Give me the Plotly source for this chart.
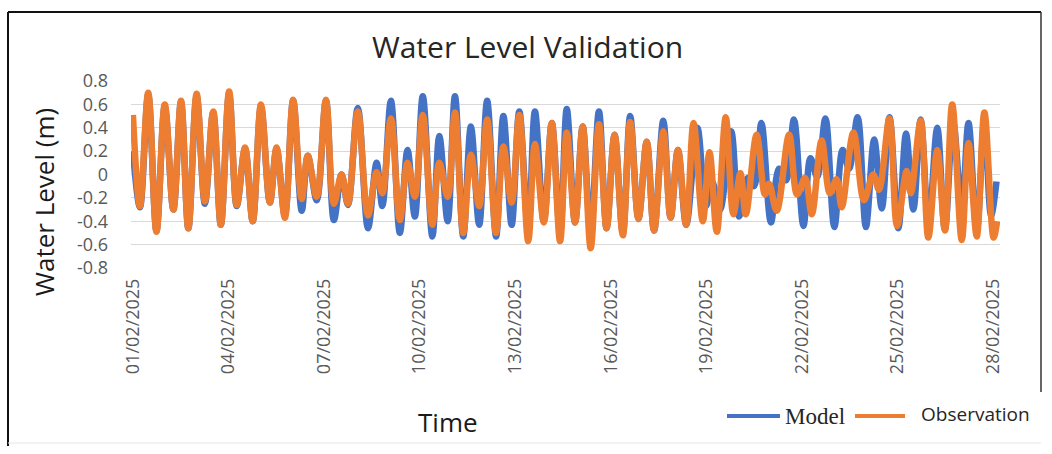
import pandas as pd
import plotly.graph_objects as go

# ---- data ----
start_date = "2025-02-01"

obs_days = [0.00, 0.22, 0.48, 0.74, 1.00, 1.27, 1.51, 1.74, 2.00, 2.26,
            2.52, 2.76, 3.02, 3.26, 3.52, 3.76, 4.02, 4.30, 4.51, 4.77,
            5.03, 5.30, 5.49, 5.77, 6.06, 6.31, 6.55, 6.75, 7.06, 7.38,
            7.65, 7.83, 8.10, 8.38, 8.62, 8.85, 9.10, 9.40, 9.62, 9.88,
            10.11, 10.37, 10.61, 10.87, 11.12, 11.40, 11.63, 11.89, 12.13, 12.41,
            12.62, 12.90, 13.15, 13.41, 13.62, 13.88, 14.12, 14.37, 14.63, 14.87,
            15.12, 15.38, 15.61, 15.87, 16.13, 16.36, 16.65, 16.88, 17.11, 17.37,
            17.60, 17.89, 18.10, 18.33, 18.61, 18.85, 19.07, 19.24, 19.58, 19.84,
            19.97, 20.21, 20.60, 20.85, 21.10, 21.31, 21.62, 21.88, 22.09, 22.25,
            22.62, 22.95, 23.24, 23.42, 23.75, 23.99, 24.29, 24.42, 24.73, 24.97,
            25.25, 25.49, 25.72, 26.02, 26.23, 26.49, 26.73, 27.02, 27.13]
obs_level = [0.51, -0.27, 0.70, -0.49, 0.60, -0.30, 0.63, -0.46, 0.69, -0.23,
             0.54, -0.43, 0.71, -0.26, 0.23, -0.40, 0.60, -0.24, 0.23, -0.37,
             0.64, -0.21, 0.16, -0.19, 0.64, -0.25, 0.00, -0.25, 0.54, -0.35,
             0.02, -0.16, 0.48, -0.39, 0.10, -0.19, 0.51, -0.43, 0.10, -0.19,
             0.53, -0.50, 0.17, -0.27, 0.47, -0.50, 0.24, -0.24, 0.51, -0.57,
             0.26, -0.41, 0.44, -0.57, 0.36, -0.41, 0.41, -0.63, 0.43, -0.46,
             0.34, -0.52, 0.45, -0.38, 0.28, -0.48, 0.37, -0.37, 0.21, -0.43,
             0.44, -0.40, 0.19, -0.49, 0.49, -0.34, 0.01, -0.34, 0.34, -0.17,
             -0.08, -0.31, 0.34, -0.17, -0.03, -0.34, 0.29, -0.16, -0.04, -0.28,
             0.36, -0.22, 0.00, -0.13, 0.48, -0.44, 0.03, -0.16, 0.46, -0.54,
             0.21, -0.48, 0.60, -0.56, 0.27, -0.53, 0.53, -0.54, -0.40]

model_days = [0.00, 0.22, 0.48, 0.74, 1.00, 1.27, 1.51, 1.74, 2.00, 2.26,
              2.52, 2.76, 3.02, 3.26, 3.52, 3.76, 4.02, 4.30, 4.51, 4.77,
              5.03, 5.30, 5.49, 5.77, 6.06, 6.31, 6.55, 6.75, 7.06, 7.38,
              7.65, 7.83, 8.10, 8.38, 8.62, 8.85, 9.10, 9.40, 9.62, 9.88,
              10.11, 10.37, 10.61, 10.87, 11.12, 11.40, 11.63, 11.89, 12.13, 12.41,
              12.62, 12.90, 13.15, 13.41, 13.62, 13.88, 14.12, 14.37, 14.63, 14.87,
              15.12, 15.38, 15.61, 15.87, 16.13, 16.36, 16.65, 16.88, 17.11, 17.37,
              17.72, 17.99, 18.18, 18.43, 18.78, 19.03, 19.30, 19.50, 19.73, 20.03,
              20.28, 20.50, 20.75, 21.05, 21.27, 21.48, 21.74, 22.02, 22.28, 22.48,
              22.75, 23.01, 23.27, 23.51, 23.75, 24.03, 24.27, 24.50, 24.73, 24.98,
              25.25, 25.49, 25.75, 26.02, 26.23, 26.49, 26.73, 26.94, 27.11]
model_level = [0.20, -0.28, 0.68, -0.48, 0.58, -0.30, 0.62, -0.46, 0.67, -0.25,
               0.53, -0.43, 0.69, -0.27, 0.22, -0.40, 0.58, -0.24, 0.22, -0.35,
               0.63, -0.31, 0.16, -0.22, 0.63, -0.39, 0.00, -0.26, 0.57, -0.46,
               0.10, -0.27, 0.63, -0.50, 0.21, -0.36, 0.67, -0.53, 0.33, -0.40,
               0.67, -0.53, 0.41, -0.43, 0.63, -0.53, 0.50, -0.43, 0.54, -0.47,
               0.54, -0.40, 0.44, -0.50, 0.56, -0.41, 0.41, -0.50, 0.54, -0.46,
               0.34, -0.50, 0.50, -0.38, 0.28, -0.48, 0.46, -0.37, 0.21, -0.43,
               0.40, -0.27, -0.06, -0.30, 0.37, -0.36, -0.03, -0.10, 0.44, -0.41,
               0.05, -0.05, 0.47, -0.44, 0.14, -0.02, 0.48, -0.45, 0.21, 0.05,
               0.49, -0.45, 0.30, -0.29, 0.49, -0.46, 0.35, -0.30, 0.47, -0.42,
               0.40, -0.47, 0.45, -0.30, 0.44, -0.48, 0.45, -0.35, -0.06]

y_ticks = [-0.8, -0.6, -0.4, -0.2, 0, 0.2, 0.4, 0.6, 0.8]
y_tick_text = ["-0.8", "-0.6", "-0.4", "-0.2", "0", "0.2", "0.4", "0.6", "0.8"]

series_names = ["Model", "Observation"]

# ---- build ----
t0 = pd.Timestamp(start_date)
obs_time = t0 + pd.to_timedelta(obs_days, unit="D")
model_time = t0 + pd.to_timedelta(model_days, unit="D")

BLUE = "#4472C4"
ORANGE = "#ED7D31"

fig = go.Figure()
fig.add_trace(go.Scatter(
    x=model_time, y=model_level, mode="lines", name=series_names[0], showlegend=False,
    line=dict(color=BLUE, width=6.5, shape="spline", smoothing=1.0),
))
fig.add_trace(go.Scatter(
    x=obs_time, y=obs_level, mode="lines", name=series_names[1], showlegend=False,
    line=dict(color=ORANGE, width=6.5, shape="spline", smoothing=1.0),
))

L, R, T, B = 131, 52, 81, 186
W, H = 1052, 454
pw, ph = W - L - R, H - T - B

def px_x(x):
    return (x - L) / pw

def px_y(y):
    return (H - B - y) / ph

x_lo = t0 + pd.Timedelta(days=-0.06)
x_hi = t0 + pd.Timedelta(days=27.22)

shapes = [
    # chart frame
    dict(type="line", xref="paper", yref="paper", x0=px_x(8), x1=px_x(8), y0=px_y(12), y1=px_y(446),
         line=dict(color="#111111", width=2)),
    dict(type="line", xref="paper", yref="paper", x0=px_x(8), x1=px_x(1041), y0=px_y(12), y1=px_y(12),
         line=dict(color="#111111", width=2)),
    dict(type="line", xref="paper", yref="paper", x0=px_x(1041), x1=px_x(1041), y0=px_y(12), y1=px_y(392),
         line=dict(color="#333333", width=1.5)),
    dict(type="line", xref="paper", yref="paper", x0=px_x(8), x1=px_x(1041), y0=px_y(443), y1=px_y(443),
         line=dict(color="#e6e6e6", width=1)),
    # legend keys
    dict(type="line", xref="paper", yref="paper", x0=px_x(727), x1=px_x(780), y0=px_y(416), y1=px_y(416),
         line=dict(color=BLUE, width=4)),
    dict(type="line", xref="paper", yref="paper", x0=px_x(855), x1=px_x(905), y0=px_y(416), y1=px_y(416),
         line=dict(color=ORANGE, width=4)),
]

annotations = [
    dict(text="Water Level Validation", x=px_x(527), y=px_y(47), xref="paper", yref="paper",
         showarrow=False, font=dict(size=30, color="#262626"), xanchor="center", yanchor="middle"),
    dict(text="Water Level (m)", x=px_x(44), y=px_y(202), xref="paper", yref="paper",
         showarrow=False, textangle=-90, font=dict(size=26, color="#1a1a1a"),
         xanchor="center", yanchor="middle"),
    dict(text="Time", x=px_x(448), y=px_y(422), xref="paper", yref="paper",
         showarrow=False, font=dict(size=26, color="#1a1a1a"),
         xanchor="center", yanchor="middle"),
    dict(text=series_names[0], x=px_x(783), y=px_y(416), xref="paper", yref="paper",
         showarrow=False, font=dict(size=23, color="#262626", family="Liberation Serif, serif"),
         xanchor="left", yanchor="middle"),
    dict(text=series_names[1], x=px_x(919), y=px_y(414), xref="paper", yref="paper",
         showarrow=False, font=dict(size=19, color="#262626"),
         xanchor="left", yanchor="middle"),
]

fig.update_layout(
    width=W, height=H,
    margin=dict(l=L, r=R, t=T, b=B, autoexpand=False),
    paper_bgcolor="white", plot_bgcolor="white",
    font=dict(family="Open Sans, Liberation Sans, sans-serif", color="#595959"),
    showlegend=False,
    xaxis=dict(
        type="date", range=[x_lo, x_hi],
        tickmode="linear", tick0=start_date, dtick=3 * 86400000,
        tickformat="%d/%m/%Y", tickangle=-90,
        tickfont=dict(size=18, color="#595959"),
        showgrid=False, zeroline=False, showline=False, ticks="",
        ticklabelstandoff=6,
    ),
    yaxis=dict(
        range=[-0.8, 0.8], tickmode="array", tickvals=y_ticks, ticktext=y_tick_text,
        tickfont=dict(size=18, color="#595959"),
        showgrid=True, gridcolor="#d9d9d9", gridwidth=1.2,
        zeroline=False, showline=False, ticks="", ticklabelstandoff=22,
    ),
    annotations=annotations,
    shapes=shapes,
)

fig.write_html("out.html")
